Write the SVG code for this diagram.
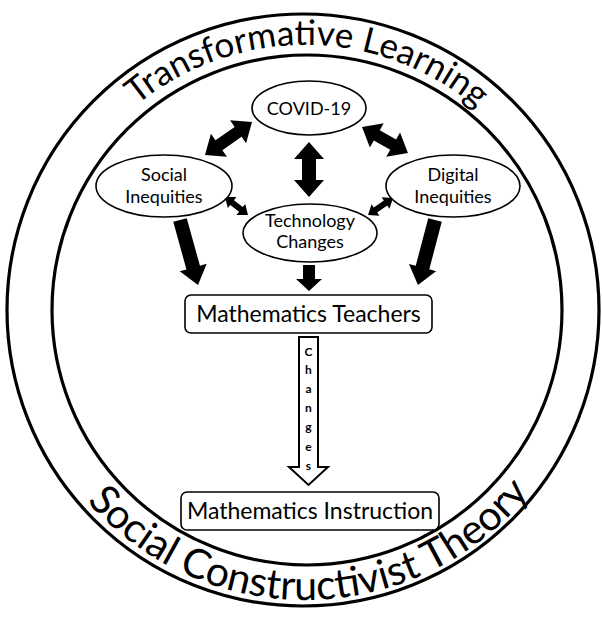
<svg xmlns="http://www.w3.org/2000/svg" xmlns:xlink="http://www.w3.org/1999/xlink" width="602" height="617" viewBox="0 0 602 617">
<style>
.ring{fill:none;stroke:#000;stroke-width:3.2}
.node{fill:#fff;stroke:#000;stroke-width:1.6}
.lbl{font-family:Lato,"Open Sans","Liberation Sans",sans-serif;font-size:18px;fill:#000;text-anchor:middle}
.big{font-size:23px}
.arc{font-family:Lato,"Open Sans","Liberation Sans",sans-serif;fill:#000}
.arr{fill:#000;stroke:none}
.hollow{fill:#fff;stroke:#000;stroke-width:2}
.ch{font-family:Lato,"Liberation Sans",sans-serif;font-size:12px;font-weight:bold;fill:#000;text-anchor:middle}
</style>
<defs>
<path id="topArc" d="M 40 310 A 265 265 0 0 1 570 310"/>
<path id="botArc" d="M 15 310 A 290 290 0 0 0 595 310"/>
</defs>
<rect width="602" height="617" fill="#fff"/>
<g id="frame">
<circle class="ring" cx="303" cy="310" r="296"/>
<circle class="ring" cx="307" cy="310" r="255"/>
<text class="arc" font-size="35"><textPath xlink:href="#topArc" href="#topArc" startOffset="50.3%" text-anchor="middle">Transformative Learning</textPath></text>
<text class="arc" font-size="41"><textPath xlink:href="#botArc" href="#botArc" startOffset="50.6%" text-anchor="middle">Social Constructivist Theory</textPath></text>
</g>
<g id="connectors">
<polygon class="arr" transform="translate(205,155) rotate(-35)" points="0,0 17,-14 17,-6 40.4,-6 40.4,-14 57.4,0 40.4,14 40.4,6 17,6 17,14"/>
<polygon class="arr" transform="translate(362,127) rotate(29.5)" points="0,0 17,-14 17,-6 35.8,-6 35.8,-14 52.8,0 35.8,14 35.8,6 17,6 17,14"/>
<polygon class="arr" transform="translate(309,142) rotate(90)" points="0,0 17,-15 17,-7 38,-7 38,-15 55,0 38,15 38,7 17,7 17,15"/>
<polygon class="arr" transform="translate(225,197) rotate(38)" points="0,0 9,-7 9,-3 20.2,-3 20.2,-7 29.2,0 20.2,7 20.2,3 9,3 9,7"/>
<polygon class="arr" transform="translate(393,198) rotate(145.8)" points="0,0 9,-7 9,-3 21.2,-3 21.2,-7 30.2,0 21.2,7 21.2,3 9,3 9,7"/>
<polygon class="arr" transform="translate(180,220) rotate(74.5)" points="0,-7 49.4,-7 49.4,-14 67.4,0 49.4,14 49.4,7 0,7"/>
<polygon class="arr" transform="translate(309,265) rotate(90)" points="0,-6 14,-6 14,-13 26,0 14,13 14,6 0,6"/>
<polygon class="arr" transform="translate(435,220) rotate(104.7)" points="0,-7 49.2,-7 49.2,-14 67.2,0 49.2,14 49.2,7 0,7"/>
<polygon class="hollow" points="299,337 318,337 318,467 328,467 308.5,485 289,467 299,467"/>
<text class="ch" x="308.5" y="356">C</text>
<text class="ch" x="308.5" y="374">h</text>
<text class="ch" x="308.5" y="393">a</text>
<text class="ch" x="308.5" y="412">n</text>
<text class="ch" x="308.5" y="431">g</text>
<text class="ch" x="308.5" y="451">e</text>
<text class="ch" x="308.5" y="470">s</text>
</g>
<g id="covid">
<ellipse class="node" cx="309" cy="108" rx="57" ry="27"/>
<text class="lbl" x="309" y="115">COVID-19</text>
</g>
<g id="social">
<ellipse class="node" cx="164" cy="186" rx="68" ry="31"/>
<text class="lbl" x="164" y="181">Social</text>
<text class="lbl" x="164" y="203">Inequities</text>
</g>
<g id="digital">
<ellipse class="node" cx="453" cy="186" rx="67" ry="31"/>
<text class="lbl" x="453" y="181">Digital</text>
<text class="lbl" x="453" y="203">Inequities</text>
</g>
<g id="technology">
<ellipse class="node" cx="310" cy="233" rx="67" ry="29"/>
<text class="lbl" x="310" y="227">Technology</text>
<text class="lbl" x="310" y="248">Changes</text>
</g>
<g id="teachers">
<rect class="node" x="185" y="295" width="247" height="38" rx="6"/>
<text class="lbl big" x="308.5" y="322">Mathematics Teachers</text>
</g>
<g id="instruction">
<rect class="node" x="181" y="492" width="258" height="38" rx="6"/>
<text class="lbl big" x="310" y="519">Mathematics Instruction</text>
</g>
</svg>
